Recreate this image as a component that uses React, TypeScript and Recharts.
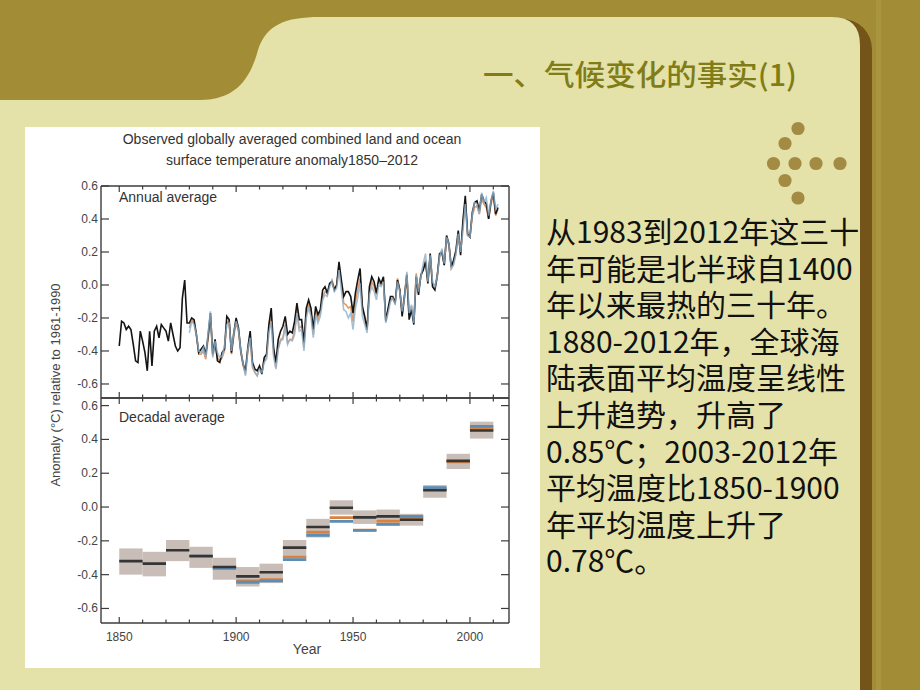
import React from 'react';
import { ComposedChart, Line, XAxis, YAxis, ReferenceArea } from 'recharts';

// ---------- data ----------
const HAD_START = 1850;
const hadcrut4 = [
  -0.37, -0.22, -0.23, -0.27, -0.25, -0.27, -0.36, -0.46, -0.47, -0.28,
  -0.34, -0.41, -0.52, -0.28, -0.49, -0.28, -0.25, -0.32, -0.24, -0.26,
  -0.28, -0.34, -0.23, -0.30, -0.37, -0.40, -0.38, -0.08, 0.03, -0.23,
  -0.23, -0.20, -0.21, -0.30, -0.41, -0.39, -0.37, -0.42, -0.31, -0.17,
  -0.42, -0.33, -0.46, -0.47, -0.41, -0.39, -0.19, -0.21, -0.41, -0.29,
  -0.20, -0.26, -0.40, -0.48, -0.52, -0.38, -0.28, -0.47, -0.51, -0.52,
  -0.49, -0.54, -0.44, -0.42, -0.24, -0.14, -0.38, -0.47, -0.33, -0.28,
  -0.25, -0.19, -0.30, -0.28, -0.29, -0.22, -0.11, -0.21, -0.21, -0.35,
  -0.14, -0.09, -0.14, -0.27, -0.13, -0.18, -0.15, -0.03, -0.01, -0.05,
  0.01, 0.02, -0.03, 0.00, 0.14, 0.03, -0.07, -0.04, -0.04, -0.07,
  -0.17, -0.05, 0.03, 0.10, -0.13, -0.19, -0.27, -0.01, 0.05, 0.02,
  -0.05, 0.04, 0.01, 0.05, -0.22, -0.14, -0.07, -0.07, -0.11, 0.03,
  -0.03, -0.19, -0.07, 0.06, -0.21, -0.15, -0.24, 0.05, -0.06, 0.06,
  0.09, 0.14, 0.01, 0.19, -0.01, -0.03, 0.05, 0.19, 0.20, 0.12,
  0.30, 0.25, 0.11, 0.15, 0.21, 0.33, 0.18, 0.39, 0.54, 0.31,
  0.29, 0.44, 0.50, 0.51, 0.45, 0.55, 0.51, 0.49, 0.40, 0.51,
  0.56, 0.43, 0.47,
];

const SURF_START = 1880;
const noaaMlost = [
  -0.26, -0.21, -0.23, -0.31, -0.42, -0.42, -0.40, -0.45, -0.33, -0.19,
  -0.43, -0.37, -0.44, -0.46, -0.44, -0.40, -0.23, -0.22, -0.42, -0.31,
  -0.23, -0.28, -0.41, -0.49, -0.54, -0.40, -0.33, -0.50, -0.53, -0.55,
  -0.50, -0.52, -0.46, -0.44, -0.27, -0.20, -0.41, -0.50, -0.38, -0.33,
  -0.32, -0.24, -0.35, -0.33, -0.33, -0.28, -0.15, -0.26, -0.25, -0.38,
  -0.18, -0.12, -0.17, -0.30, -0.16, -0.21, -0.17, -0.07, -0.04, -0.05,
  0.00, 0.03, -0.02, 0.00, 0.12, 0.01, -0.11, -0.12, -0.14, -0.13,
  -0.22, -0.10, -0.03, 0.04, -0.15, -0.20, -0.27, -0.04, 0.02, -0.01,
  -0.06, 0.02, 0.00, 0.03, -0.21, -0.15, -0.09, -0.08, -0.11, 0.04,
  -0.03, -0.16, -0.06, 0.07, -0.18, -0.13, -0.22, 0.07, -0.03, 0.05,
  0.11, 0.15, 0.02, 0.18, 0.01, -0.01, 0.06, 0.17, 0.20, 0.12,
  0.28, 0.24, 0.10, 0.13, 0.19, 0.30, 0.20, 0.36, 0.51, 0.30,
  0.29, 0.42, 0.47, 0.48, 0.43, 0.52, 0.49, 0.47, 0.40, 0.49,
  0.54, 0.42, 0.46,
];

const gissTemp = [
  -0.29, -0.22, -0.24, -0.30, -0.40, -0.41, -0.38, -0.44, -0.29, -0.16,
  -0.44, -0.34, -0.41, -0.44, -0.43, -0.37, -0.24, -0.23, -0.40, -0.29,
  -0.22, -0.27, -0.40, -0.48, -0.55, -0.39, -0.32, -0.49, -0.53, -0.55,
  -0.51, -0.53, -0.47, -0.45, -0.29, -0.22, -0.43, -0.51, -0.39, -0.34,
  -0.33, -0.25, -0.36, -0.33, -0.34, -0.30, -0.17, -0.28, -0.27, -0.40,
  -0.20, -0.14, -0.19, -0.32, -0.18, -0.23, -0.19, -0.09, -0.06, -0.07,
  -0.01, 0.02, -0.04, -0.02, 0.09, -0.03, -0.15, -0.16, -0.20, -0.17,
  -0.27, -0.14, -0.08, 0.01, -0.19, -0.24, -0.29, -0.06, -0.01, -0.04,
  -0.09, 0.00, -0.01, 0.02, -0.23, -0.17, -0.10, -0.08, -0.12, 0.02,
  -0.04, -0.16, -0.08, 0.08, -0.17, -0.12, -0.23, 0.06, -0.04, 0.05,
  0.13, 0.19, 0.02, 0.18, 0.02, -0.01, 0.05, 0.17, 0.22, 0.13,
  0.29, 0.25, 0.10, 0.12, 0.19, 0.31, 0.20, 0.33, 0.49, 0.30,
  0.29, 0.43, 0.50, 0.49, 0.43, 0.56, 0.50, 0.53, 0.42, 0.51,
  0.57, 0.46, 0.49,
];

const decadeStarts = [1850, 1860, 1870, 1880, 1890, 1900, 1910, 1920, 1930, 1940, 1950, 1960, 1970, 1980, 1990, 2000];
const decBoxLow = [-0.40, -0.41, -0.32, -0.36, -0.43, -0.47, -0.45, -0.30, -0.18, -0.045, -0.10, -0.11, -0.11, 0.055, 0.225, 0.405];
const decBoxHigh = [-0.245, -0.265, -0.195, -0.235, -0.30, -0.355, -0.335, -0.195, -0.07, 0.04, -0.02, -0.015, -0.04, 0.13, 0.315, 0.505];
const decHad = [-0.32, -0.335, -0.256, -0.29, -0.355, -0.41, -0.386, -0.24, -0.118, -0.004, -0.061, -0.055, -0.075, 0.099, 0.272, 0.453];
const decNoaa = [null, null, null, -0.292, -0.36, -0.437, -0.43, -0.296, -0.148, -0.063, -0.136, -0.083, -0.062, 0.105, 0.268, 0.463];
const decGiss = [null, null, null, -0.29, -0.362, -0.445, -0.437, -0.311, -0.167, -0.085, -0.138, -0.102, -0.055, 0.115, 0.275, 0.477];

const yTicks = [-0.6, -0.4, -0.2, 0.0, 0.2, 0.4, 0.6];
const xTicks = [1850, 1860, 1870, 1880, 1890, 1900, 1910, 1920, 1930, 1940, 1950, 1960, 1970, 1980, 1990, 2000, 2010];
const xLabelYears = [1850, 1900, 1950, 2000];

const chartTitle = ['Observed globally averaged combined land and ocean', 'surface temperature anomaly1850\u20132012'];
const slideTitle = '一、气候变化的事实(1)';
const bodyLines = [
  '从1983到2012年这三十',
  '年可能是北半球自1400',
  '年以来最热的三十年。',
  '1880-2012年，全球海',
  '陆表面平均温度呈线性',
  '上升趋势，升高了',
  '0.85℃；2003-2012年',
  '平均温度比1850-1900',
  '年平均温度上升了',
  '0.78℃。',
];

// ---------- derived tables ----------
const hadData = hadcrut4.map((v, i) => ({ year: HAD_START + i, v }));
const noaaData = noaaMlost.map((v, i) => ({ year: SURF_START + i, v }));
const gissData = gissTemp.map((v, i) => ({ year: SURF_START + i, v }));

function segData(vals: (number | null)[]) {
  const out: { year: number; v: number | null }[] = [];
  decadeStarts.forEach((s, i) => {
    const v = vals[i];
    if (v == null) return;
    out.push({ year: s, v }, { year: s + 10, v }, { year: s + 10, v: null });
  });
  return out;
}
const decHadData = segData(decHad);
const decNoaaData = segData(decNoaa);
const decGissData = segData(decGiss);

// ---------- styling ----------
const AXIS = '#3c3c3c';
const LABEL = '#444';
const FONT = '"Liberation Sans", Arial, Helvetica, sans-serif';
const CJK = '"Noto Sans CJK SC", "Noto Sans", sans-serif';
const X_DOMAIN: [number, number] = [1842.2, 2016.7];

function makeXTick(dir: number, showLabel: boolean) {
  return (props: any) => {
    const { x, y, payload } = props;
    const major = payload.value % 50 === 0;
    const len = major ? 6 : 3.5;
    return (
      <g>
        <line x1={x} x2={x} y1={y} y2={y + dir * len} stroke={AXIS} strokeWidth={1.2} />
        {showLabel && xLabelYears.includes(payload.value) && (
          <text x={x} y={y + 14} textAnchor="middle" dominantBaseline="central" fontSize={12} fill={LABEL} fontFamily={FONT}>
            {payload.value}
          </text>
        )}
      </g>
    );
  };
}

const leftYTick = (props: any) => {
  const { x, y, payload } = props;
  return (
    <g>
      <line x1={x} x2={x + 8} y1={y} y2={y} stroke={AXIS} strokeWidth={1.2} />
      <text x={x - 3} y={y} textAnchor="end" dominantBaseline="central" fontSize={12} fill={LABEL} fontFamily={FONT}>
        {Number(payload.value).toFixed(1)}
      </text>
    </g>
  );
};

const rightYTick = (props: any) => {
  const { x, y } = props;
  return <line x1={x} x2={x - 8} y1={y} y2={y} stroke={AXIS} strokeWidth={1.2} />;
};

function axes(yDomain: [number, number], bottomLabels: boolean) {
  const axisLine = { stroke: AXIS, strokeWidth: 1.4 };
  return [
    <XAxis key="xb" xAxisId="b" dataKey="year" type="number" domain={X_DOMAIN} allowDataOverflow ticks={xTicks} interval={0}
      height={1} tickSize={0} tickMargin={0} tickLine={false} axisLine={axisLine} tick={makeXTick(-1, bottomLabels)} />,
    <XAxis key="xt" xAxisId="t" orientation="top" dataKey="year" type="number" domain={X_DOMAIN} allowDataOverflow ticks={xTicks} interval={0}
      height={1} tickSize={0} tickMargin={0} tickLine={false} axisLine={axisLine} tick={makeXTick(1, false)} />,
    <YAxis key="yl" yAxisId="l" type="number" domain={yDomain} allowDataOverflow ticks={yTicks} interval={0}
      width={40} tickSize={0} tickMargin={0} tickLine={false} axisLine={axisLine} tick={leftYTick} />,
    <YAxis key="yr" yAxisId="r" orientation="right" type="number" domain={yDomain} allowDataOverflow ticks={yTicks} interval={0}
      width={1} tickSize={0} tickMargin={0} tickLine={false} axisLine={axisLine} tick={rightYTick} />,
  ];
}

function TopPanel() {
  return (
    <ComposedChart width={515} height={273} margin={{ top: 58, right: 30, bottom: 1, left: 36 }}>
      {axes([-0.685, 0.6], false)}
      <Line xAxisId="b" yAxisId="l" data={noaaData} dataKey="v" type="linear" stroke="#E49A68" strokeWidth={1.6} dot={false} isAnimationActive={false} />
      <Line xAxisId="b" yAxisId="l" data={hadData} dataKey="v" type="linear" stroke="#141414" strokeWidth={1.6} dot={false} isAnimationActive={false} />
      <Line xAxisId="b" yAxisId="l" data={gissData} dataKey="v" type="linear" stroke="#8DB0CB" strokeOpacity={0.8} strokeWidth={1.6} dot={false} isAnimationActive={false} />
    </ComposedChart>
  );
}

function BottomPanel() {
  return (
    <ComposedChart width={515} height={262} margin={{ top: 1, right: 30, bottom: 34, left: 36 }}>
      {axes([-0.686, 0.645], true)}
      {decadeStarts.map((s, i) => (
        <ReferenceArea key={s} xAxisId="b" yAxisId="l" x1={s} x2={s + 10} y1={decBoxLow[i]} y2={decBoxHigh[i]}
          fill="#C9BDB7" fillOpacity={1} stroke="none" ifOverflow="visible" />
      ))}
      <Line xAxisId="b" yAxisId="l" data={decNoaaData} dataKey="v" type="linear" stroke="#D9823F" strokeWidth={2.8} dot={false} connectNulls={false} isAnimationActive={false} />
      <Line xAxisId="b" yAxisId="l" data={decGissData} dataKey="v" type="linear" stroke="#5B8DB6" strokeWidth={2.8} dot={false} connectNulls={false} isAnimationActive={false} />
      <Line xAxisId="b" yAxisId="l" data={decHadData} dataKey="v" type="linear" stroke="#353535" strokeWidth={2.6} dot={false} connectNulls={false} isAnimationActive={false} />
    </ComposedChart>
  );
}

const dots = [
  [798, 128.5], [785, 143.5], [773.5, 163.5], [795, 163.5], [816, 163.5], [840, 163.5], [785, 180.5], [798, 198],
];

export default function App() {
  return (
    <div style={{ position: 'absolute', left: 0, top: 0, width: 920, height: 690, overflow: 'hidden', background: '#A28D36' }}>
      <svg width={920} height={690} style={{ position: 'absolute', left: 0, top: 0 }}>
        <rect x={0} y={0} width={920} height={690} fill="#A28D36" />
        <rect x={876} y={0} width={5} height={690} fill="#A99540" />
        <rect x={800} y={19} width={72} height={700} rx={30} fill="#745419" />
        <path d="M0,100 H200 C235,100 250,80 258,50 C266,25 285,17 320,17 H832 Q860,17 860,45 V690 H0 Z" fill="#E4E2A8" />
        <rect x={25} y={127} width={515} height={541} fill="#FFFFFF" />
        {dots.map(([cx, cy], i) => (
          <circle key={i} cx={cx} cy={cy} r={6.6} fill="#A38B44" />
        ))}
        <text x={483} y={86} fontSize={29} fontWeight={500} fill="#807C17" fontFamily={CJK} textLength={314} lengthAdjust="spacingAndGlyphs">
          {slideTitle}
        </text>
        {bodyLines.map((t, i) => (
          <text key={i} x={546} y={230 + i * 36.6} dominantBaseline="central" fontSize={30} fill="#111" fontFamily={CJK}>
            {t}
          </text>
        ))}
        {chartTitle.map((t, i) => (
          <text key={i} x={292} y={139 + i * 21} textAnchor="middle" dominantBaseline="central" fontSize={14} fill="#333" fontFamily={FONT}>
            {t}
          </text>
        ))}
        <text x={119} y={197} dominantBaseline="central" fontSize={14} fill="#333" fontFamily={FONT}>Annual average</text>
        <text x={119} y={417} dominantBaseline="central" fontSize={14} fill="#333" fontFamily={FONT}>Decadal average</text>
        <text x={0} y={0} transform="translate(55,385) rotate(-90)" textAnchor="middle" dominantBaseline="central" fontSize={13} fill="#444" fontFamily={FONT}>
          Anomaly (°C) relative to 1961-1990
        </text>
        <text x={307} y={649} textAnchor="middle" dominantBaseline="central" fontSize={14} fill="#444" fontFamily={FONT}>Year</text>
      </svg>
      <div style={{ position: 'absolute', left: 25, top: 127 }}>
        <TopPanel />
      </div>
      <div style={{ position: 'absolute', left: 25, top: 396 }}>
        <BottomPanel />
      </div>
    </div>
  );
}
